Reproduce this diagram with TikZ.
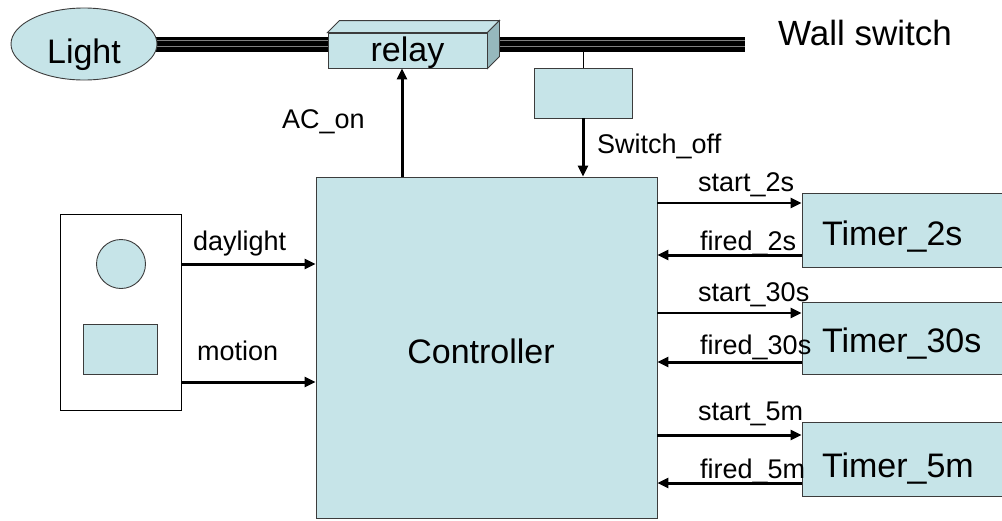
\documentclass[tikz,border=0pt]{standalone}
\usepackage{fontspec}
\setmainfont{Liberation Sans}
\usetikzlibrary{shapes.geometric,arrows.meta}
\definecolor{boxfill}{RGB}{198,228,232}
\definecolor{boxside}{RGB}{150,184,189}
\definecolor{edgegray}{RGB}{60,60,60}
\newcommand{\lowered}[2]{\raisebox{-#1}[0pt][0pt]{#2}}
\begin{document}
\begin{tikzpicture}[x=1pt,y=-1pt,
  blk/.style={draw=edgegray, line width=0.9pt, fill=boxfill, inner sep=0pt},
  big/.style={font=\fontsize{34}{36}\selectfont},
  lbl/.style={font=\fontsize{27}{29}\selectfont, anchor=base west, inner sep=0pt},
  arr/.style={line width=3pt, -{Triangle[length=11pt,width=10pt]}},
  tarr/.style={line width=2.4pt, -{Triangle[length=11pt,width=10pt]}},
  timer/.style={blk, big, minimum width=208pt, text width=168pt, align=left, inner xsep=20pt}
]
\useasboundingbox (0,0) rectangle (1002,520);

% wire
\coordinate (wstart) at (150,44.5);
\coordinate (wend) at (745,44.5);
\draw[line width=15pt, black] (wstart) -- (wend);
\draw[line width=1pt, gray] ([yshift=4pt]wstart) -- ([yshift=4pt]wend);
\draw[line width=1pt, gray] ([yshift=-2pt]wstart) -- ([yshift=-2pt]wend);

% light
\node[blk, ellipse, minimum width=146pt, minimum height=72pt, big] (light) at (84,44) {\lowered{19pt}{Light}};

% relay (3D box)
\node[blk, minimum width=159pt, minimum height=35pt, big] (relay) at (407.5,50.5) {\lowered{11pt}{relay}};
\filldraw[fill=boxfill, draw=edgegray, line width=0.9pt] (relay.north west) -- ++(12,-12) -- ([shift={(12,-12)}]relay.north east) -- (relay.north east) -- cycle;
\filldraw[fill=boxside, draw=edgegray, line width=0.9pt] (relay.north east) -- ++(12,-12) -- ([shift={(12,-12)}]relay.south east) -- (relay.south east) -- cycle;

% wall switch box
\node[blk, minimum width=98pt, minimum height=50pt] (sw) at (583,93) {};
\coordinate (wj) at (583,52);
\draw[line width=0.8pt] (sw.north) -- (wj);
\node[font=\fontsize{35}{37}\selectfont, anchor=base west, inner sep=0pt] (wall) at (778,45) {Wall switch};

% controller
\node[blk, minimum width=341pt, minimum height=341pt, big] (ctrl) at (486.5,347.5) {\hspace*{-11pt}\lowered{16pt}{Controller}};

% timers
\node[timer, minimum height=74pt] (t2) at (906,230) {\lowered{15pt}{Timer\_2s}};
\node[timer, minimum height=72pt] (t30) at (906,338) {\lowered{14pt}{Timer\_30s}};
\node[timer, minimum height=74pt] (t5) at (906,459) {\lowered{18pt}{Timer\_5m}};

% sensor panel
\node[draw=black, line width=0.9pt, fill=white, minimum width=121pt, minimum height=196pt, inner sep=0pt] (panel) at (120.5,312) {};
\node[blk, circle, minimum size=49pt] (eye) at (121,264) {};
\node[blk, minimum width=74pt, minimum height=50pt] (pir) at (120,349) {};

% controller inputs
\draw[arr] (panel.east |- eye) -- (ctrl.west |- eye);
\coordinate (mo) at (181,382);
\draw[arr] (panel.east |- mo) -- (ctrl.west |- mo);
\node[lbl] (ldl) at (193,250) {daylight};
\node[lbl] (lmo) at (197,360) {motion};

% relay / switch arrows
\coordinate (ac) at ([xshift=-5.5pt]relay.south);
\draw[arr] (ctrl.north -| ac) -- (ac);
\draw[arr] (sw.south) -- (ctrl.north -| sw.south);
\node[lbl] (lac) at (282,128) {AC\_on};
\node[lbl] (lso) at (597,153) {Switch\_off};

% timer arrows
\coordinate (s2) at ([yshift=27pt]t2.west);
\coordinate (f2) at ([yshift=-25pt]t2.west);
\coordinate (s30) at ([yshift=25pt]t30.west);
\coordinate (f30) at ([yshift=-24pt]t30.west);
\coordinate (s5) at ([yshift=24pt]t5.west);
\coordinate (f5) at ([yshift=-24pt]t5.west);
\draw[tarr] (ctrl.east |- s2) -- (s2);
\draw[arr] (f2) -- (ctrl.east |- f2);
\draw[tarr] (ctrl.east |- s30) -- (s30);
\draw[arr] (f30) -- (ctrl.east |- f30);
\draw[arr] (ctrl.east |- s5) -- (s5);
\draw[arr] (f5) -- (ctrl.east |- f5);
\node[lbl] (ls2) at (698,191) {start\_2s};
\node[lbl] (lf2) at (700,250) {fired\_2s};
\node[lbl] (ls30) at (698,301) {start\_30s};
\node[lbl] (lf30) at (700,354) {fired\_30s};
\node[lbl] (ls5) at (698,420) {start\_5m};
\node[lbl] (lf5) at (700,478) {fired\_5m};
\end{tikzpicture}
\end{document}
